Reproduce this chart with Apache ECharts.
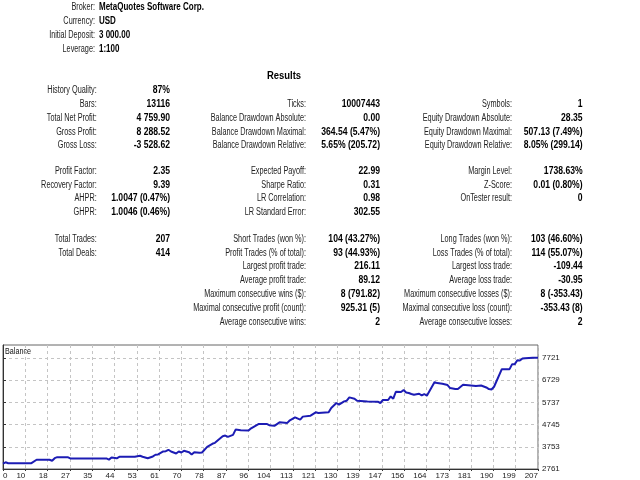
<!DOCTYPE html>
<html>
<head>
<meta charset="UTF-8">
<script src="https://cdn.jsdelivr.net/npm/echarts@6/dist/echarts.min.js"></script>
<style>
  html, body { margin: 0; padding: 0; background: #fff; }
  #container { width: 640px; height: 480px; }
</style>
</head>
<body>
<div id="container"></div>
<script>
// ---- report header ----
var headerLabels = ['Broker:', 'Currency:', 'Initial Deposit:', 'Leverage:'];
var headerValues = ['MetaQuotes Software Corp.', 'USD', '3 000.00', '1:100'];

// ---- results table, one slot per row (null = empty cell) ----
var resultsCol1 = [
  ['History Quality:', '87%'], ['Bars:', '13116'], ['Total Net Profit:', '4 759.90'],
  ['Gross Profit:', '8 288.52'], ['Gross Loss:', '-3 528.62'],
  ['Profit Factor:', '2.35'], ['Recovery Factor:', '9.39'],
  ['AHPR:', '1.0047 (0.47%)'], ['GHPR:', '1.0046 (0.46%)'],
  ['Total Trades:', '207'], ['Total Deals:', '414'],
  null, null, null, null, null
];
var resultsCol2 = [
  null, ['Ticks:', '10007443'], ['Balance Drawdown Absolute:', '0.00'],
  ['Balance Drawdown Maximal:', '364.54 (5.47%)'], ['Balance Drawdown Relative:', '5.65% (205.72)'],
  ['Expected Payoff:', '22.99'], ['Sharpe Ratio:', '0.31'],
  ['LR Correlation:', '0.98'], ['LR Standard Error:', '302.55'],
  ['Short Trades (won %):', '104 (43.27%)'], ['Profit Trades (% of total):', '93 (44.93%)'],
  ['Largest profit trade:', '216.11'], ['Average profit trade:', '89.12'],
  ['Maximum consecutive wins ($):', '8 (791.82)'], ['Maximal consecutive profit (count):', '925.31 (5)'],
  ['Average consecutive wins:', '2']
];
var resultsCol3 = [
  null, ['Symbols:', '1'], ['Equity Drawdown Absolute:', '28.35'],
  ['Equity Drawdown Maximal:', '507.13 (7.49%)'], ['Equity Drawdown Relative:', '8.05% (299.14)'],
  ['Margin Level:', '1738.63%'], ['Z-Score:', '0.01 (0.80%)'],
  ['OnTester result:', '0'], null,
  ['Long Trades (won %):', '103 (46.60%)'], ['Loss Trades (% of total):', '114 (55.07%)'],
  ['Largest loss trade:', '-109.44'], ['Average loss trade:', '-30.95'],
  ['Maximum consecutive losses ($):', '8 (-353.43)'], ['Maximal consecutive loss (count):', '-353.43 (8)'],
  ['Average consecutive losses:', '2']
];

// ---- balance curve (trade number, balance) ----
var tradeNo = [0,1,2,11,13,18,19,20,21,25,26,40,41,42,44,45,51,53,54,55,
  56,58,59,60,62,63,64,65,67,68,69,70,72,73,74,76,77,79,81,82,
  85,86,87,89,90,92,95,96,98,99,102,103,105,107,110,111,113,115,116,119,
  121,122,126,127,129,130,132,133,134,136,137,141,145,146,147,149,150,151,152,154,
  155,156,157,158,159,161,162,163,164,167,168,170,172,173,175,176,178,181,183,185,
  187,188,189,190,193,196,197,198,199,200,201,202,205,207];
var balance = [3000,3060,3020,3020,3175,3175,3130,3245,3290,3290,3235,3235,3180,3275,3240,3305,3305,3355,3308,3277,
  3240,3322,3397,3411,3544,3558,3620,3544,3455,3544,3500,3575,3513,3411,3513,3486,3500,3753,3887,3931,
  4225,4256,4198,4287,4523,4492,4479,4581,4715,4777,4777,4720,4688,4848,4821,4937,5071,4968,5102,5146,
  5293,5266,5293,5489,5711,5636,5783,5814,5961,5903,5814,5783,5769,5711,5845,5845,6005,5903,6214,6201,
  6290,6183,6156,6112,6081,6125,6050,6112,6036,6646,6601,6570,6512,6379,6334,6334,6526,6494,6468,6494,
  6405,6334,6317,6437,7224,7224,7447,7447,7625,7607,7696,7714,7735,7730];

var xLabels = ['0','10','18','27','35','44','53','61','70','78','87','96','104','113','121',
  '130','139','147','156','164','173','181','190','199','207'];
var yTicks = [2761, 3753, 4745, 5737, 6729, 7721];

// ---- layout helpers ----
var FONT = '"Liberation Sans", Arial, sans-serif';
var LABEL_SX = 0.73, VALUE_SX = 0.86;

function txt(text, x, y, align, bold, sx, size, color) {
  return {
    type: 'text', x: x, y: y, scaleX: sx, silent: true,
    style: {
      text: text, fill: color || '#000',
      font: (bold ? 'bold ' : '') + (size || 10) + 'px ' + FONT,
      align: align, verticalAlign: 'middle',
      textAlign: align, textVerticalAlign: 'middle'
    }
  };
}

function rowY(i) {
  if (i < 5) return 90.5 + i * 13.8;
  if (i < 9) return 171 + (i - 5) * 13.8;
  return 239 + (i - 9) * 13.8;
}

var elements = [];
headerLabels.forEach(function (l, i) {
  var y = 7.5 + i * 13.9;
  elements.push(txt(l, 95, y, 'right', false, LABEL_SX, 10, '#222'));
  elements.push(txt(headerValues[i], 99, y, 'left', true, 0.8, 10));
});
elements.push(txt('Results', 284, 76, 'center', true, 0.86, 11));

var cols = [resultsCol1, resultsCol2, resultsCol3];
var labelRight = [96.7, 306, 512];
var valueRight = [170, 380, 582.6];
cols.forEach(function (col, c) {
  col.forEach(function (cell, i) {
    if (!cell) return;
    elements.push(txt(cell[0], labelRight[c], rowY(i), 'right', false, LABEL_SX, 10, '#222'));
    elements.push(txt(cell[1], valueRight[c], rowY(i), 'right', true, VALUE_SX, 10));
  });
});
elements.push(txt('Balance', 5, 351.5, 'left', false, 0.8, 9, '#111'));

var xStep = 207 / 24;
var chart = echarts.init(document.getElementById('container'));
chart.setOption({
  animation: false,
  backgroundColor: '#fff',
  grid: {
    left: 2, right: 102, top: 345, bottom: 10,
    show: true, borderColor: '#666', borderWidth: 1, backgroundColor: '#fff'
  },
  xAxis: {
    type: 'value', min: 0, max: 207, interval: xStep,
    axisLine: { show: true, lineStyle: { color: '#333', width: 1 } },
    axisTick: { show: true, length: 2, lineStyle: { color: '#333' } },
    axisLabel: {
      fontSize: 8, fontFamily: FONT, color: '#222', margin: 3,
      align: 'right', alignMinLabel: 'left', showMinLabel: true, showMaxLabel: true,
      hideOverlap: false,
      formatter: function (v) { return xLabels[Math.round(v / xStep)]; }
    },
    splitLine: { show: true, lineStyle: { color: '#c4c4c4', type: [3, 3], width: 1 } }
  },
  yAxis: {
    type: 'value', position: 'right', min: 2761, max: 8303,
    axisLine: { show: true, lineStyle: { color: '#333', width: 1 } },
    axisTick: { show: true, length: 3, inside: false, customValues: yTicks, lineStyle: { color: '#333' } },
    axisLabel: {
      fontSize: 8, fontFamily: FONT, color: '#222', margin: 4,
      customValues: yTicks, showMinLabel: true, showMaxLabel: true,
      formatter: function (v) { return String(v); }
    },
    splitLine: { show: true, lineStyle: { color: '#c4c4c4', type: [3, 3], width: 1 } }
  },
  graphic: elements,
  series: [{
    type: 'line',
    data: tradeNo.map(function (t, i) { return [t, balance[i]]; }),
    showSymbol: false, symbol: 'none',
    lineStyle: { color: '#1c1cb4', width: 2 },
    clip: true
  }]
});
</script>
</body>
</html>
